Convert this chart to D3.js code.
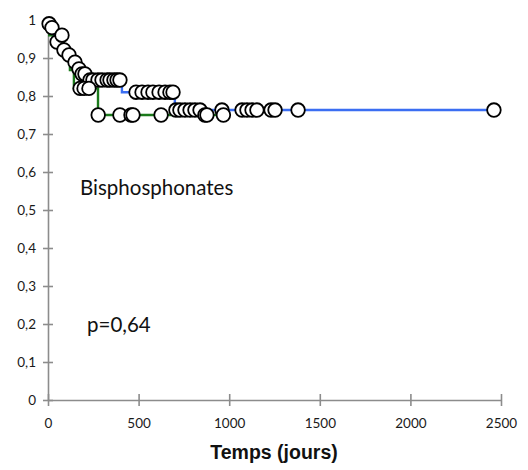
<!DOCTYPE html>
<html lang="fr">
<head>
<meta charset="utf-8">
<title>Bisphosphonates - survie</title>
<script src="https://d3js.org/d3.v7.min.js"></script>
<style>
    body { margin: 0; background: #fff; }
    svg { display: block; }
    .tick text { font-family: Lato, "Open Sans", sans-serif; font-size: 13.5px; fill: #1a1a1a; }
    .axis path, .axis line { stroke: #8c8c8c; stroke-width: 1.6; }
    .note { font-family: Lato, "Open Sans", sans-serif; font-size: 20.5px; fill: #111; }
    .xtitle { font-family: "Liberation Sans", Arial, sans-serif; font-weight: bold; font-size: 19.5px; fill: #111; text-anchor: middle; }
</style>
</head>
<body>
<script>

// Kaplan-Meier steps (day, survival)
let blueTimes = [0, 3, 15, 35, 45, 70, 105, 140, 160, 180, 210, 408, 700];
let blueSurv  = [1, 0.99, 0.98, 0.96, 0.942, 0.921, 0.908, 0.889, 0.871, 0.858, 0.842, 0.81, 0.763];
let blueEnd = 2461;
let blueCensored = [6, 22, 50, 88, 116, 149, 171, 188, 204, 232,
                    248, 276, 298, 326, 342, 364, 381, 397,
                    486, 519, 552, 579, 613, 646, 673, 690,
                    706, 728, 756, 784, 811, 839, 960, 1071, 1098, 1126, 1153,
                    1231, 1253, 1380, 2461];

let greenTimes = [0, 7, 88, 108, 121, 143, 276];
let greenSurv  = [1, 0.96, 0.934, 0.897, 0.868, 0.82, 0.75];
let greenEnd = 968;
let greenCensored = [77, 177, 199, 226, 277, 397, 458, 469, 624, 866, 877, 968];

let xTicks = [0, 500, 1000, 1500, 2000, 2500];
let yTicks = [0, 0.1, 0.2, 0.3, 0.4, 0.5, 0.6, 0.7, 0.8, 0.9, 1];

let W = 528, H = 470;

let x = d3.scaleLinear().domain([0, 2500]).range([48, 501]);
let y = d3.scaleLinear().domain([0, 1]).range([400, 20]);

let fr = d3.formatLocale({ decimal: ",", thousands: "", grouping: [3], currency: ["", ""] });
let fmt = fr.format("~g");

let svg = d3.select("body").append("svg")
    .attr("width", W)
    .attr("height", H);

// axes
let yAxis = svg.append("g")
    .attr("class", "axis")
    .attr("transform", "translate(" + x(0) + ",0)")
    .call(d3.axisLeft(y).tickValues(yTicks).tickFormat(fmt).tickSizeInner(5).tickSizeOuter(0).tickPadding(7));
yAxis.selectAll(".tick line").attr("x2", -5).attr("x1", 5);

let xAxis = svg.append("g")
    .attr("class", "axis")
    .attr("transform", "translate(0," + y(0) + ")")
    .call(d3.axisBottom(x).tickValues(xTicks).tickFormat(d => String(d)).tickSizeInner(6).tickSizeOuter(0).tickPadding(12));
xAxis.selectAll(".tick line").attr("y1", -6).attr("y2", 6);

// survival at time t for a step curve
function survAt(times, surv, t) {
    let i = d3.bisectRight(times, t) - 1;
    return surv[Math.max(0, i)];
}

let line = d3.line()
    .x(d => x(d[0]))
    .y(d => y(d[1]))
    .curve(d3.curveStepAfter);

function stepPoints(times, surv, end) {
    let pts = times.map((t, i) => [t, surv[i]]);
    pts.push([end, surv[surv.length - 1]]);
    return pts;
}

svg.append("path")
    .datum(stepPoints(greenTimes, greenSurv, greenEnd))
    .attr("d", line)
    .attr("fill", "none")
    .attr("stroke", "#1b7a1b")
    .attr("stroke-width", 2.4);

svg.append("path")
    .datum(stepPoints(blueTimes, blueSurv, blueEnd))
    .attr("d", line)
    .attr("fill", "none")
    .attr("stroke", "#3b6ef2")
    .attr("stroke-width", 2.4);

// censored marks
function drawCensored(days, times, surv) {
    svg.append("g")
        .selectAll("circle")
        .data(days)
        .enter()
        .append("circle")
        .attr("cx", d => x(d))
        .attr("cy", d => y(survAt(times, surv, d)))
        .attr("r", 6.8)
        .attr("fill", "#fff")
        .attr("stroke", "#000")
        .attr("stroke-width", 1.8);
}

drawCensored(blueCensored, blueTimes, blueSurv);
drawCensored(greenCensored, greenTimes, greenSurv);

// annotations
svg.append("text").attr("class", "note")
    .attr("x", 80).attr("y", 195)
    .text("Bisphosphonates");

svg.append("text").attr("class", "note")
    .attr("x", 87).attr("y", 332)
    .text("p=0,64");

svg.append("text").attr("class", "xtitle")
    .attr("x", 274).attr("y", 459)
    .text("Temps (jours)");

</script>
</body>
</html>
